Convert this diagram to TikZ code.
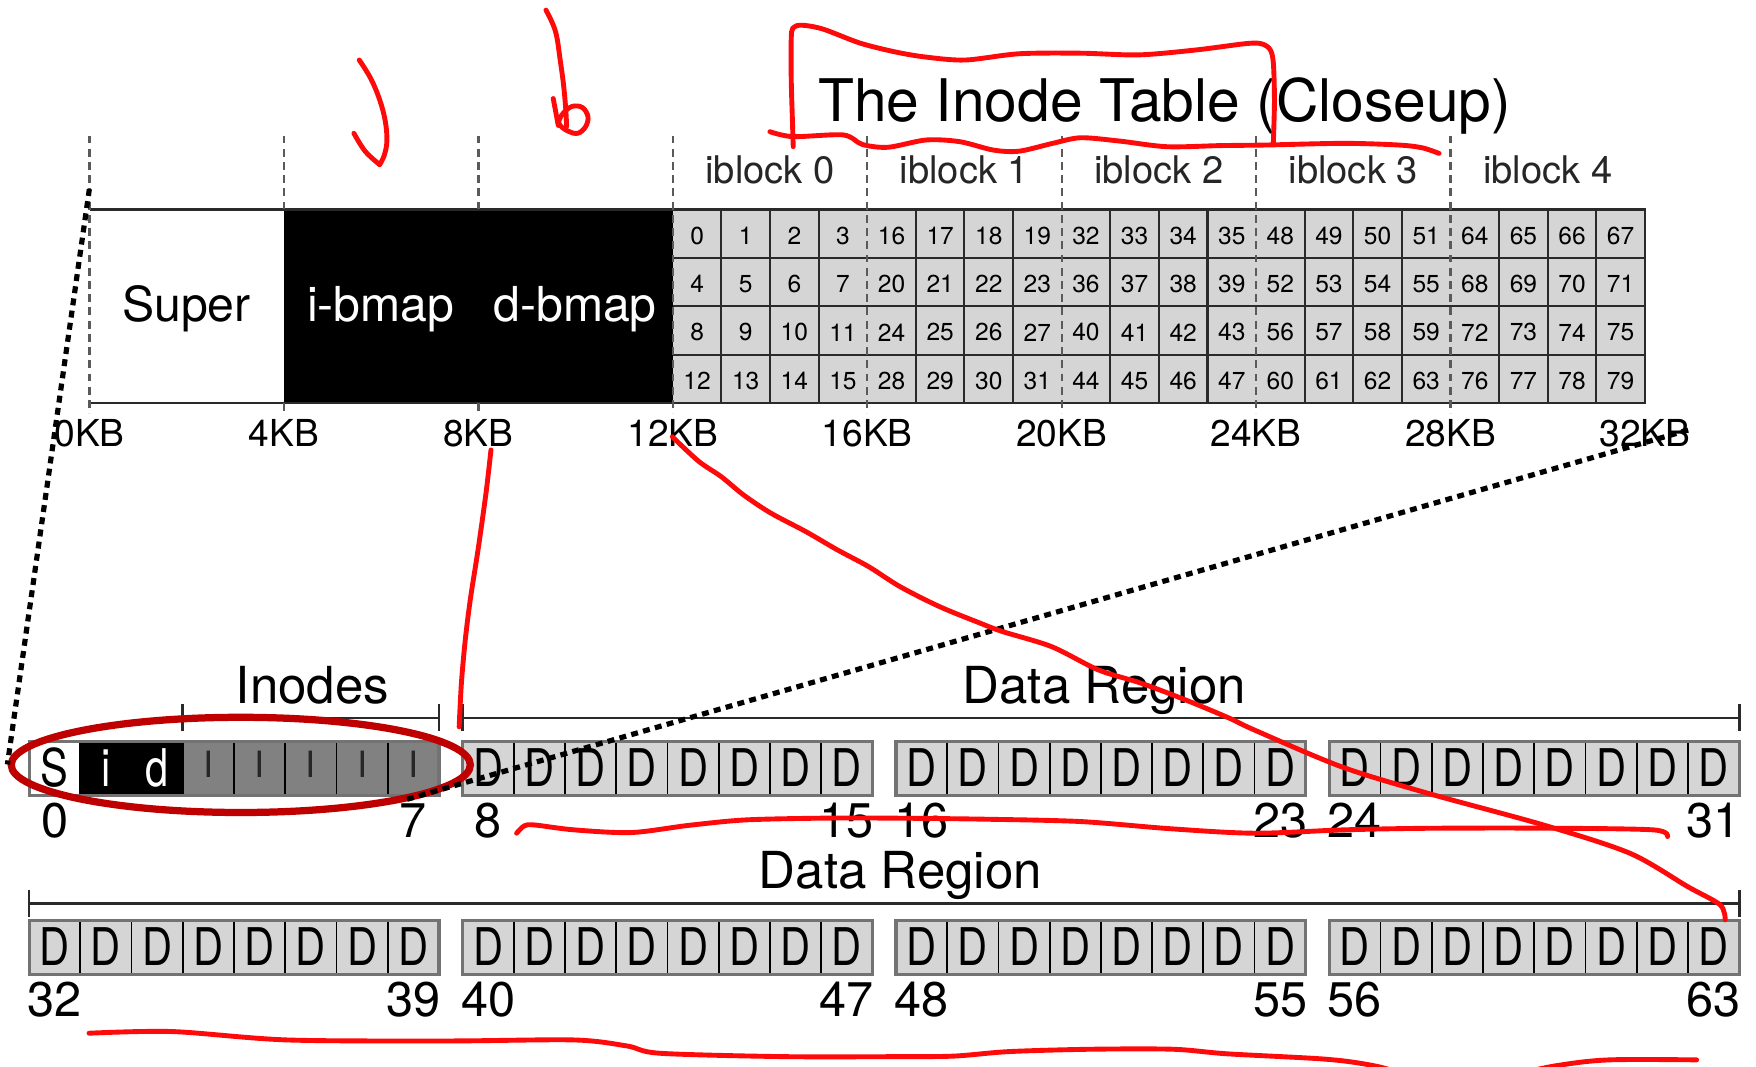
\documentclass[tikz,border=0pt]{standalone}
\usepackage{fontspec}
\setmainfont{TeX Gyre Heros}
\newfontfamily\cellfont[FakeStretch=0.8]{TeX Gyre Heros}

\definecolor{tablegray}{HTML}{D5D5D5}
\definecolor{inodegray}{HTML}{818181}
\definecolor{rulegray}{HTML}{2A2A2A}
\definecolor{guidegray}{HTML}{5A5A5A}
\definecolor{penred}{HTML}{FF0A0A}
\definecolor{ringred}{HTML}{BE0000}

\newcommand\fsz[1]{\fontsize{#1}{#1}\selectfont}

\tikzset{
  every node/.style={inner sep=0pt, outer sep=0pt},
  titletext/.style={anchor=base, font=\fsz{37.3pt}},
  iblocktext/.style={anchor=base, font=\fsz{24.2pt}, text=black!85},
  regiontext/.style={anchor=base, font=\fsz{30.6pt}},
  kbtext/.style={anchor=base, font=\fsz{23.6pt}},
  numtext/.style={font=\fsz{15.6pt}},
  celltext/.style={anchor=base, font=\cellfont\fsz{33pt}},
  inodetext/.style={anchor=base, font=\fsz{23pt}},
  labeltext/.style={anchor=base, font=\fsz{32.4pt}},
  idxtext/.style={anchor=base, font=\fsz{30.9pt}},
  guide/.style={draw=guidegray, line width=1.4pt, dash pattern=on 5pt off 3.4pt},
  tablerule/.style={draw=rulegray, line width=1.3pt},
  bracket/.style={draw=rulegray, line width=1.7pt},
  zoomline/.style={draw=black, line width=3.3pt, dash pattern=on 4.4pt off 3.4pt},
  pen/.style={draw=penred, line width=3.1pt, line cap=round, line join=round},
  ring/.style={draw=ringred, line width=4.6pt},
}

\begin{document}
\begin{tikzpicture}[x=0.25mm, y=-0.25mm]
\useasboundingbox (0,0) rectangle (1568,952);
\fill[white] (0,0) rectangle (1568,952);

% ===== whole-disk layout: super block, bitmaps, inode table =====
\fill[white] (80,187) rectangle (253.6,360);
\fill[black] (253.6,187) rectangle (600.8,360);
\fill[tablegray] (600.8,187) rectangle (1468.8,360);
\foreach \r in {1,2,3}
  \draw[tablerule] (600.8,{187+43.25*\r}) -- (1468.8,{187+43.25*\r});
\foreach \c in {1,...,19} {
  \pgfmathtruncatemacro\m{mod(\c,4)}
  \ifnum\m>0 \draw[tablerule] ({600.8+43.4*\c},187) -- ({600.8+43.4*\c},360); \fi
}
\draw[tablerule, line width=1.6pt] (80,187) -- (1468.8,187) -- (1468.8,360) -- (80,360);

% 4KB boundaries
\foreach \k in {0,3,4,5,6,7}
  \draw[guide] ({80+173.6*\k},121) -- ({80+173.6*\k},369);
\foreach \k in {1,2} {
  \draw[guide] ({80+173.6*\k},121) -- ({80+173.6*\k},187);
  \draw[guide] ({80+173.6*\k},360) -- ({80+173.6*\k},369);
}

% inode numbers
\foreach \b in {0,...,4}
  \foreach \r in {0,...,3}
    \foreach \c in {0,...,3} {
      \pgfmathtruncatemacro\n{16*\b+4*\r+\c}
      \node[numtext] (ino\n) at ({600.8+43.4*(4*\b+\c)+21.7},{187+43.25*\r+23.3}) {\n};
    }

\foreach \b in {0,...,4}
  \node[iblocktext] (iblk\b) at ({687.6+173.6*\b},164) {iblock \b};

\foreach \k in {0,...,8} {
  \pgfmathtruncatemacro\kb{4*\k}
  \node[kbtext] (kb\k) at ({80+173.6*\k},399) {\kb KB};
}

\node[regiontext] (super) at (166.5,287) {Super};
\node[regiontext, text=white] (ibmap) at (340,287) {i-bmap};
\node[regiontext, text=white] (dbmap) at (513.5,287) {d-bmap};

\node[titletext] (title) at (1040,108.6) {The Inode Table (Closeup)};

% ===== block-level view: 64 blocks in groups of eight =====
\foreach \row/\ry in {0/662,1/822} {
  \foreach \g in {0,...,3} {
    \pgfmathsetmacro\gx{26+387*\g}
    \foreach \j in {0,...,7} {
      \pgfmathtruncatemacro\idx{32*\row+8*\g+\j}
      \pgfmathsetmacro\cx{\gx+45.75*\j}
      \def\cellfill{tablegray}\def\cellchar{D}\def\cellcol{black}%
      \def\cellkind{celltext}\def\cellbase{40.5}%
      \ifnum\idx=0 \def\cellfill{white}\def\cellchar{S}\fi
      \ifnum\idx=1 \def\cellfill{black}\def\cellchar{i}\def\cellcol{white}\fi
      \ifnum\idx=2 \def\cellfill{black}\def\cellchar{d}\def\cellcol{white}\fi
      \ifnum\idx>2 \ifnum\idx<8
        \def\cellfill{inodegray}\def\cellchar{I}\def\cellcol{black!85}%
        \def\cellkind{inodetext}\def\cellbase{32}%
      \fi\fi
      \fill[\cellfill] (\cx,\ry) rectangle ({\cx+45.75},{\ry+48});
      \ifnum\j>0 \draw[black, line width=1.1pt] (\cx,\ry) -- (\cx,{\ry+48}); \fi
      \node[\cellkind, text=\cellcol] (blk\idx) at ({\cx+22.875},{\ry+\cellbase}) {\cellchar};
    }
    \draw[black!55, line width=2pt] (\gx,\ry) rectangle ({\gx+366},{\ry+48});
    \pgfmathtruncatemacro\first{32*\row+8*\g}
    \pgfmathtruncatemacro\last{32*\row+8*\g+7}
    \node[idxtext] (lo\first) at ({\gx+22.875},{\ry+86}) {\first};
    \node[idxtext] (hi\last) at ({\gx+343.1},{\ry+86}) {\last};
  }
}

% region brackets
\draw[bracket] (163.25,641) -- (392,641);
\draw[bracket] (163.25,629) -- (163.25,653);
\draw[bracket] (392,629) -- (392,653);
\node[labeltext] (inodes) at (279,628) {Inodes};

\draw[bracket] (413,641) -- (1553,641);
\draw[bracket] (413,629) -- (413,653);
\draw[bracket] (1553,629) -- (1553,653);
\node[labeltext] (data1) at (986,628) {Data Region};

\draw[bracket] (26,806.5) -- (1553,806.5);
\draw[bracket] (26,794.5) -- (26,818.5);
\draw[bracket] (1553,794.5) -- (1553,818.5);
\node[labeltext] (data2) at (804,793) {Data Region};

% ring round the metadata blocks
\draw[ring] (215,683) ellipse (205 and 42.5);

% zoom lines from the disk layout to the block view
\coordinate (zA) at (79.8,168.8);
\coordinate (zB) at (6.6,682.6);
\coordinate (zC) at (1507.4,384);
\coordinate (zD) at (361.4,714.3);
\draw[zoomline] (zA) -- (zB);
\draw[zoomline] (zC) -- (zD);

% ===== pen annotations =====
\begin{scope}
\clip (0,0) rectangle (1568,952);
\draw[pen] plot[smooth, tension=0.6] coordinates {(320.8,53.6) (331,70) (339,89) (344,108) (345.5,126) (343,139) (339,147)};
\draw[pen] plot[smooth, tension=0.6] coordinates {(339,147) (326,135) (316,119)};

\draw[pen] plot[smooth, tension=0.6] coordinates {(487.5,9) (493,20) (497,32) (500,52) (503,74) (505,95) (506,113)};
\draw[pen] (494,88) -- (498.5,112);
\draw[pen] plot[smooth cycle, tension=0.6] coordinates {(507,117) (516,119) (523,113) (525,104) (520,96) (511,95) (503,101) (499,110)};

\draw[pen] plot[smooth, tension=0.5] coordinates {(708.3,131) (707.5,105) (706.5,70) (706.5,35) (708,25) (716,22.5) (735,26) (768,38.5) (800,46.5) (827,51) (862,53.6) (910,48) (965,47.5) (1017,49) (1068,44.6) (1112,39) (1126,39) (1134,44) (1137,56) (1138,90) (1137,128)};
\draw[pen] plot[smooth, tension=0.5] coordinates {(687.5,117.6) (708,122) (753,120.5) (770,129) (793,131.5) (827,125) (857,126.5) (887,134) (910,135) (940,128) (965,123) (1000,126) (1042,131) (1090,130) (1130,129.5) (1200,128) (1249,129.5) (1270,132) (1285,137)};

\draw[pen] plot[smooth] coordinates {(438.4,401.8) (434,440) (427,490) (420,535) (415.5,571) (412,610) (410,649)};

\draw[pen] plot[smooth, tension=0.5] coordinates {(600.3,390) (624,412) (644,425.6) (664,442) (688,458) (719.6,474.7) (747.7,491) (775.7,506) (803.6,523.8) (839,541.7) (875.4,556.5) (895.3,564) (939,577.4) (980.8,598.2) (1018.8,610) (1058.7,625) (1098,641.4) (1120,651.8) (1197.4,684.5) (1274.8,708.3) (1378,736.6) (1455.4,761.9) (1507,791.7) (1536,808) (1540.5,821.4)};

\draw[pen] plot[smooth, tension=0.5] coordinates {(461.3,744) (468,737.5) (477,736.6) (512.5,741) (563.8,743.4) (615,737) (666.3,732.1) (740,730.5) (803.6,730.6) (880,731.5) (965.3,733.6) (1045,740) (1120,744) (1200,741) (1274.8,739.6) (1380,739.5) (1476,741) (1489,747)};

\draw[pen] plot[smooth, tension=0.5] coordinates {(79.5,922.6) (153.8,921.1) (256.3,928.6) (400,929.5) (512.5,928.6) (560,934) (589.4,940.5) (700,943.5) (803.6,943.5) (852.3,943) (901,939) (974,936.9) (1047.3,936.9) (1096,941) (1183.8,945.8) (1227.7,951.8) (1300,968) (1388.4,951.8) (1437,946.4) (1515,946.4)};
\end{scope}
\end{tikzpicture}
\end{document}
